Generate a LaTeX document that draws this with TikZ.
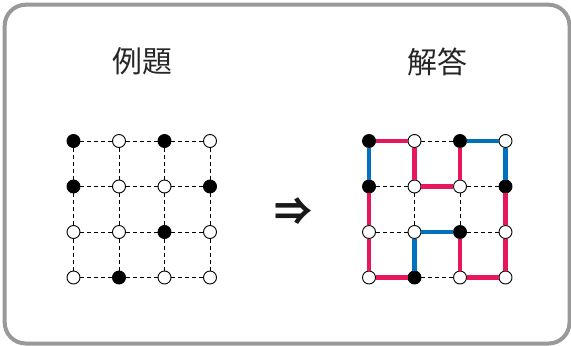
\documentclass[tikz,border=0pt]{standalone}
\usepackage{fontspec}
\newfontfamily\cjk{Noto Sans CJK JP}
\definecolor{linkred}{HTML}{E8175D}
\definecolor{linkblue}{HTML}{0071BC}
\definecolor{framegray}{HTML}{999999}
\tikzset{
  bdot/.style={circle, draw=black, fill=black, line width=0.9bp, minimum size=13bp, inner sep=0pt},
  wdot/.style={circle, draw=black, fill=white, line width=0.9bp, minimum size=13bp, inner sep=0pt},
  gridline/.style={line width=0.9bp, dash pattern=on 4bp off 3bp},
  redlink/.style={linkred, line width=4.5bp},
  bluelink/.style={linkblue, line width=4.5bp},
  title/.style={font=\cjk\fontsize{30}{30}\selectfont, text=black!85}
}

\begin{document}
\begin{tikzpicture}[x=1bp, y=1bp]
  \useasboundingbox (0,0) rectangle (571,345);
  \draw[framegray, line width=4bp, rounded corners=21bp] (4.7,1.5) rectangle (569.5,340.3);
  \node[title] (qtitle) at (142,283.5) {例題};
  \node[title] (atitle) at (437,283.5) {解答};
  \node[font=\cjk\bfseries\fontsize{38}{38}\selectfont, text=black!90] (arrow) at (293,133) {⇒};
  % example grid
  \node[bdot] (q00) at (73.5,204) {};
  \node[wdot] (q10) at (119,204) {};
  \node[bdot] (q20) at (164.5,204) {};
  \node[wdot] (q30) at (210,204) {};
  \node[bdot] (q01) at (73.5,158.5) {};
  \node[wdot] (q11) at (119,158.5) {};
  \node[wdot] (q21) at (164.5,158.5) {};
  \node[bdot] (q31) at (210,158.5) {};
  \node[wdot] (q02) at (73.5,113) {};
  \node[wdot] (q12) at (119,113) {};
  \node[bdot] (q22) at (164.5,113) {};
  \node[wdot] (q32) at (210,113) {};
  \node[wdot] (q03) at (73.5,67.5) {};
  \node[bdot] (q13) at (119,67.5) {};
  \node[wdot] (q23) at (164.5,67.5) {};
  \node[wdot] (q33) at (210,67.5) {};
  \draw[gridline] (q00) -- (q10) (q10) -- (q20) (q20) -- (q30);
  \draw[gridline] (q01) -- (q11) (q11) -- (q21) (q21) -- (q31);
  \draw[gridline] (q02) -- (q12) (q12) -- (q22) (q22) -- (q32);
  \draw[gridline] (q03) -- (q13) (q13) -- (q23) (q23) -- (q33);
  \draw[gridline] (q00) -- (q01) (q01) -- (q02) (q02) -- (q03);
  \draw[gridline] (q10) -- (q11) (q11) -- (q12) (q12) -- (q13);
  \draw[gridline] (q20) -- (q21) (q21) -- (q22) (q22) -- (q23);
  \draw[gridline] (q30) -- (q31) (q31) -- (q32) (q32) -- (q33);
  % answer grid
  \node[bdot] (a00) at (369,204) {};
  \node[wdot] (a10) at (414.5,204) {};
  \node[bdot] (a20) at (460,204) {};
  \node[wdot] (a30) at (505.5,204) {};
  \node[bdot] (a01) at (369,158.5) {};
  \node[wdot] (a11) at (414.5,158.5) {};
  \node[wdot] (a21) at (460,158.5) {};
  \node[bdot] (a31) at (505.5,158.5) {};
  \node[wdot] (a02) at (369,113) {};
  \node[wdot] (a12) at (414.5,113) {};
  \node[bdot] (a22) at (460,113) {};
  \node[wdot] (a32) at (505.5,113) {};
  \node[wdot] (a03) at (369,67.5) {};
  \node[bdot] (a13) at (414.5,67.5) {};
  \node[wdot] (a23) at (460,67.5) {};
  \node[wdot] (a33) at (505.5,67.5) {};
  \draw[gridline] (a10) -- (a20) (a01) -- (a11) (a21) -- (a31);
  \draw[gridline] (a02) -- (a12) (a22) -- (a32) (a13) -- (a23);
  \draw[gridline] (a11) -- (a12) (a21) -- (a22);
  \draw[redlink] (a00) -- (a10) (a10) -- (a11) (a11) -- (a21) (a21) -- (a20);
  \draw[redlink] (a01) -- (a02) (a02) -- (a03) (a03) -- (a13);
  \draw[redlink] (a22) -- (a23) (a23) -- (a33) (a33) -- (a32) (a32) -- (a31);
  \draw[bluelink] (a00) -- (a01) (a20) -- (a30) (a30) -- (a31);
  \draw[bluelink] (a12) -- (a22) (a12) -- (a13);
\end{tikzpicture}
\end{document}
